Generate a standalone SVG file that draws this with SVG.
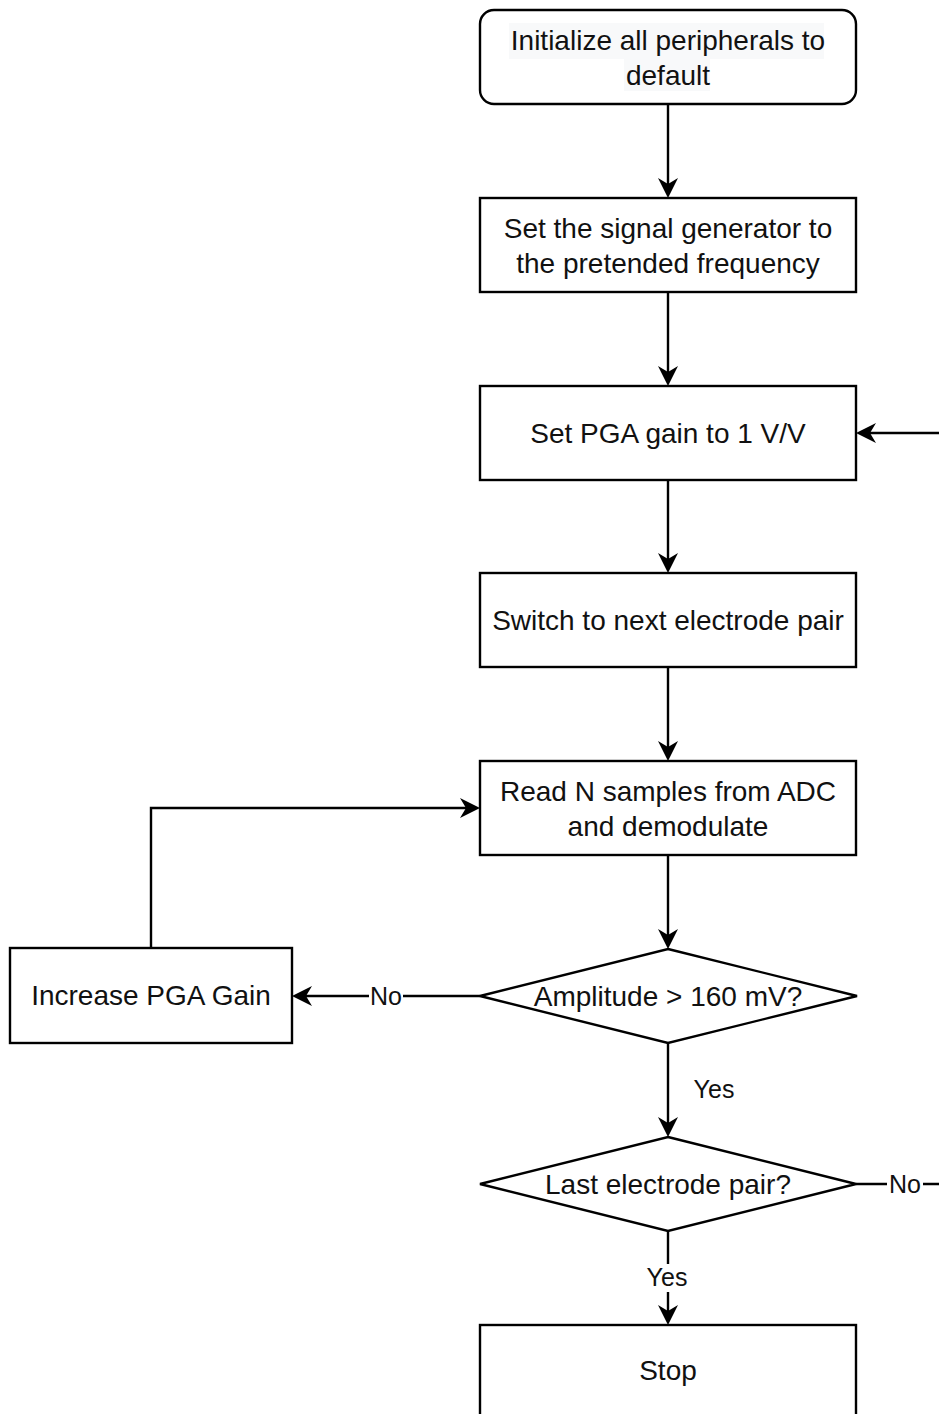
<svg xmlns="http://www.w3.org/2000/svg" width="939" height="1414" viewBox="0 0 939 1414">
<style>
.box{fill:#fff;stroke:#000;stroke-width:2.4}
.t{font-family:"Liberation Sans",Arial,sans-serif;font-size:28px;fill:#111;text-anchor:middle}
.lbl{font-family:"Liberation Sans",Arial,sans-serif;font-size:25px;fill:#111;text-anchor:middle}
.edge{fill:none;stroke:#000;stroke-width:2.4}
</style>
<defs>
<marker id="arr" markerUnits="userSpaceOnUse" markerWidth="24" markerHeight="22" viewBox="-16 -11 24 22" refX="0" refY="0" orient="auto">
<path d="M5,0 L-15,-10 L-9,0 L-15,10 Z" fill="#000"/>
</marker>
</defs>
<rect width="939" height="1414" fill="#fff"/>
<g id="connectors">
<path class="edge" d="M668,104 V193" marker-end="url(#arr)"/>
<path class="edge" d="M668,292 V381" marker-end="url(#arr)"/>
<path class="edge" d="M668,480 V568" marker-end="url(#arr)"/>
<path class="edge" d="M668,667 V756" marker-end="url(#arr)"/>
<path class="edge" d="M668,855 V944" marker-end="url(#arr)"/>
<path class="edge" d="M668,1043 V1132" marker-end="url(#arr)"/>
<path class="edge" d="M668,1231 V1320" marker-end="url(#arr)"/>
<path class="edge" d="M480,996 H297" marker-end="url(#arr)"/>
<path class="edge" d="M151,948 V808 H475" marker-end="url(#arr)"/>
<path class="edge" d="M939,433 H861" marker-end="url(#arr)"/>
<path class="edge" d="M856,1184 H939"/>
<rect x="369" y="982" width="34" height="28" fill="#fff"/>
<text class="lbl" x="386" y="1005">No</text>
<rect x="887" y="1170" width="36" height="28" fill="#fff"/>
<text class="lbl" x="905" y="1193">No</text>
<text class="lbl" x="714" y="1098">Yes</text>
<rect x="645" y="1264" width="44" height="28" fill="#fff"/>
<text class="lbl" x="667" y="1286">Yes</text>
</g>
<g id="n1">
<rect class="box" x="480" y="10" width="376" height="94" rx="14"/>
<rect x="509" y="23" width="315" height="36" fill="#f8f9fa"/>
<rect x="624" y="59" width="86" height="32" fill="#f8f9fa"/>
<text class="t" x="668" y="49.5">Initialize all peripherals to</text>
<text class="t" x="668" y="84.5">default</text>
</g>
<g id="n2">
<rect class="box" x="480" y="198" width="376" height="94"/>
<text class="t" x="668" y="237.5">Set the signal generator to</text>
<text class="t" x="668" y="272.5">the pretended frequency</text>
</g>
<g id="n3">
<rect class="box" x="480" y="386" width="376" height="94"/>
<text class="t" x="668" y="443">Set PGA gain to 1 V/V</text>
</g>
<g id="n4">
<rect class="box" x="480" y="573" width="376" height="94"/>
<text class="t" x="668" y="630">Switch to next electrode pair</text>
</g>
<g id="n5">
<rect class="box" x="480" y="761" width="376" height="94"/>
<text class="t" x="668" y="800.5">Read N samples from ADC</text>
<text class="t" x="668" y="835.5">and demodulate</text>
</g>
<g id="d1">
<path class="box" d="M668,949 L857,996 L668,1043 L480,996 Z"/>
<text class="t" x="668" y="1006">Amplitude &gt; 160 mV?</text>
</g>
<g id="d2">
<path class="box" d="M668,1137 L856,1184 L668,1231 L480,1184 Z"/>
<text class="t" x="668" y="1194">Last electrode pair?</text>
</g>
<g id="n6">
<rect class="box" x="10" y="948" width="282" height="95"/>
<text class="t" x="151" y="1005">Increase PGA Gain</text>
</g>
<g id="n7">
<rect class="box" x="480" y="1325" width="376" height="94"/>
<text class="t" x="668" y="1380">Stop</text>
</g>
</svg>
